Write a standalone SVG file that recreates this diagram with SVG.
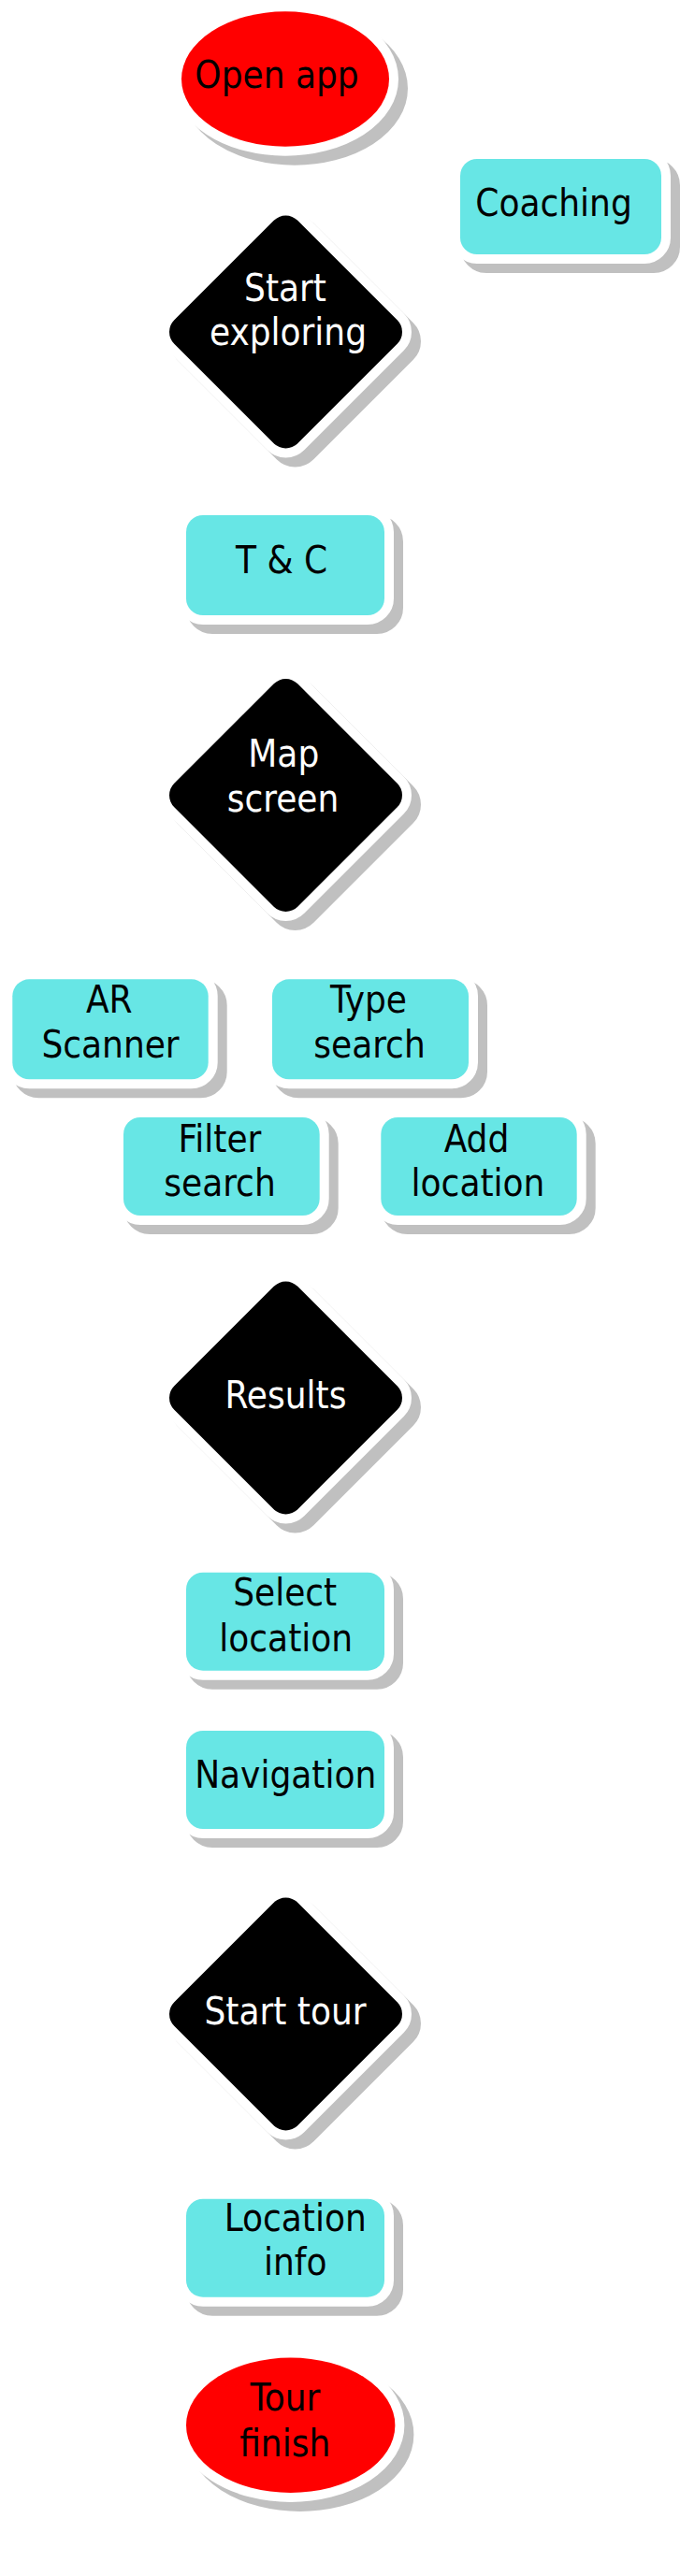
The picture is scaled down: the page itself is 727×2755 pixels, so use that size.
<svg xmlns="http://www.w3.org/2000/svg" xmlns:xlink="http://www.w3.org/1999/xlink" width="727" height="2755" viewBox="0 0 727 2755">
<defs>
<style>
.sh{fill:#c0c0c0;stroke:#c0c0c0;stroke-width:20;}
.proc{fill:#67e6e5;stroke:#ffffff;stroke-width:20;paint-order:stroke;}
.term{fill:#ff0000;stroke:#ffffff;stroke-width:20;paint-order:stroke;}
.dec{fill:#000000;stroke:#ffffff;stroke-width:20;paint-order:stroke;}
.t{font-family:"DejaVu Sans Condensed","DejaVu Sans",sans-serif;font-stretch:condensed;font-size:40px;text-anchor:middle;fill:#000000;}
.tw{fill:#ffffff;}
</style>
<rect id="dia" x="-93.3" y="-93.3" width="186.6" height="186.6" rx="18" ry="18" transform="rotate(45)"/>
</defs>
<rect width="727" height="2755" fill="#ffffff"/>
<g id="connectors"></g>

<g id="open-app">
<ellipse class="sh" cx="315" cy="94.5" rx="111" ry="72.2"/>
<ellipse class="term" cx="305" cy="84.5" rx="111" ry="72.2"/>
<text class="t" x="296" y="94.3">Open app</text>
</g>

<g id="coaching">
<rect class="sh" x="502" y="180" width="215" height="102" rx="18"/>
<rect class="proc" x="492" y="170" width="215" height="102" rx="18"/>
<text class="t" x="592" y="230.7">Coaching</text>
</g>

<g id="start-exploring">
<use xlink:href="#dia" class="sh" x="315.5" y="365"/>
<use xlink:href="#dia" class="dec" x="305.5" y="355"/>
<text class="t tw" x="305" y="321.7">Start</text>
<text class="t tw" x="308" y="369">exploring</text>
</g>

<g id="tc">
<rect class="sh" x="209" y="561" width="212" height="107" rx="18"/>
<rect class="proc" x="199" y="551" width="212" height="107" rx="18"/>
<text class="t" x="301" y="613.3">T &amp; C</text>
</g>

<g id="map-screen">
<use xlink:href="#dia" class="sh" x="315.5" y="860.5"/>
<use xlink:href="#dia" class="dec" x="305.5" y="850.5"/>
<text class="t tw" x="303.3" y="820">Map</text>
<text class="t tw" x="302.5" y="868.3">screen</text>
</g>

<g id="ar-scanner">
<rect class="sh" x="23.3" y="1057.3" width="209.4" height="107" rx="18"/>
<rect class="proc" x="13.3" y="1047.3" width="209.4" height="107" rx="18"/>
<text class="t" x="116.7" y="1083.3">AR</text>
<text class="t" x="118" y="1131">Scanner</text>
</g>

<g id="type-search">
<rect class="sh" x="301" y="1057.3" width="210" height="107" rx="18"/>
<rect class="proc" x="291" y="1047.3" width="210" height="107" rx="18"/>
<text class="t" x="394" y="1083">Type</text>
<text class="t" x="395" y="1130.7">search</text>
</g>

<g id="filter-search">
<rect class="sh" x="142" y="1205" width="209.7" height="105" rx="18"/>
<rect class="proc" x="132" y="1195" width="209.7" height="105" rx="18"/>
<text class="t" x="235" y="1231.7">Filter</text>
<text class="t" x="235" y="1279">search</text>
</g>

<g id="add-location">
<rect class="sh" x="417.3" y="1205" width="209.4" height="105" rx="18"/>
<rect class="proc" x="407.3" y="1195" width="209.4" height="105" rx="18"/>
<text class="t" x="509.5" y="1231.7">Add</text>
<text class="t" x="511" y="1279">location</text>
</g>

<g id="results">
<use xlink:href="#dia" class="sh" x="315.5" y="1505"/>
<use xlink:href="#dia" class="dec" x="305.5" y="1495"/>
<text class="t tw" x="305.5" y="1505.6">Results</text>
</g>

<g id="select-location">
<rect class="sh" x="209" y="1691.7" width="212" height="105" rx="18"/>
<rect class="proc" x="199" y="1681.7" width="212" height="105" rx="18"/>
<text class="t" x="304.7" y="1717.3">Select</text>
<text class="t" x="305.7" y="1766">location</text>
</g>

<g id="navigation">
<rect class="sh" x="209" y="1861" width="212" height="105" rx="18"/>
<rect class="proc" x="199" y="1851" width="212" height="105" rx="18"/>
<text class="t" x="305.2" y="1912.3">Navigation</text>
</g>

<g id="start-tour">
<use xlink:href="#dia" class="sh" x="315.5" y="2164"/>
<use xlink:href="#dia" class="dec" x="305.5" y="2154"/>
<text class="t tw" x="305" y="2165.4">Start tour</text>
</g>

<g id="location-info">
<rect class="sh" x="209" y="2361.7" width="212" height="105" rx="18"/>
<rect class="proc" x="199" y="2351.7" width="212" height="105" rx="18"/>
<text class="t" x="315.7" y="2385.7">Location</text>
<text class="t" x="315.7" y="2433.3">info</text>
</g>

<g id="tour-finish">
<ellipse class="sh" cx="320.7" cy="2603.8" rx="111.7" ry="72.2"/>
<ellipse class="term" cx="310.7" cy="2593.8" rx="111.7" ry="72.2"/>
<text class="t" x="305" y="2578.3">Tour</text>
<text class="t" x="304.7" y="2626.7">finish</text>
</g>
</svg>
